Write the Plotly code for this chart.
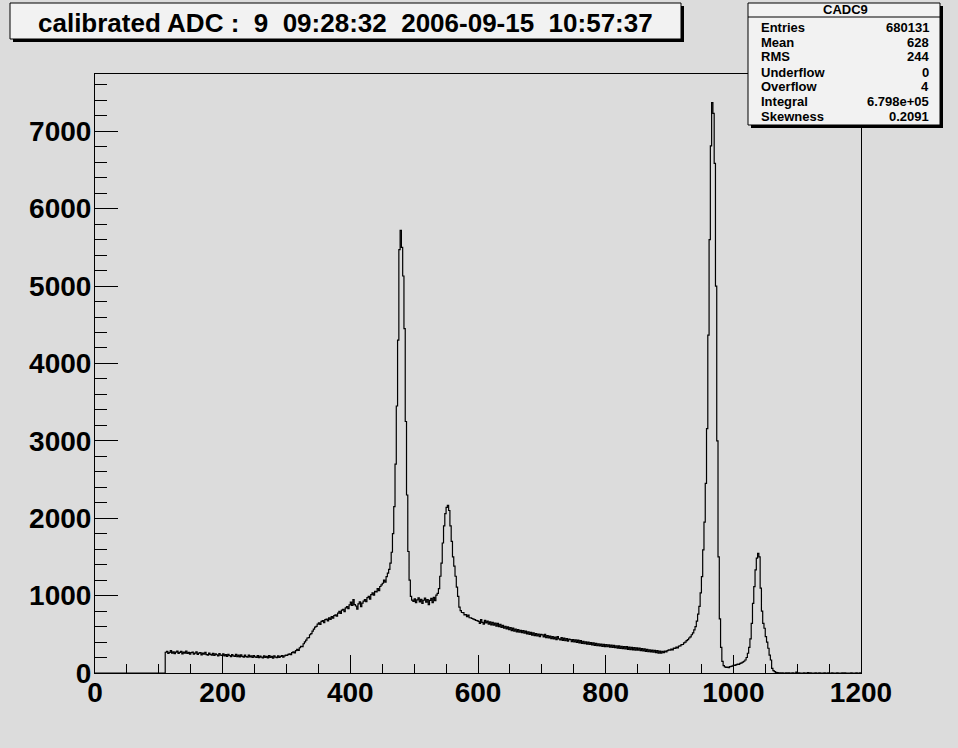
import plotly.graph_objects as go

# ---------------- data (histogram CADC9, bin width 2, range 0..1200) ----------------
bin_width = 2
x_first = 0

counts_0_108 = [0] * 55  # empty bins below the threshold

counts_110_298 = [
    268, 280, 252, 266, 288, 258, 274, 250, 270, 282, 254, 266, 279, 246, 270, 256, 284, 252, 266, 245,
    262, 270, 244, 258, 274, 240, 256, 264, 234, 258, 242, 268, 238, 230, 256, 240, 232, 254, 226, 248, 236, 222, 252, 232, 226,
    246, 220, 238, 216, 242, 226, 210, 238, 220, 214, 240, 212, 230, 208, 234, 216, 204, 230, 212, 204, 232, 208, 222, 200, 226,
    208, 202, 224, 198, 218, 206, 194, 222, 202, 216, 196, 224, 200, 214, 192, 220, 204, 198, 222, 200, 216, 226, 204, 220, 230,
]

counts_300_498 = [
    226, 240, 248, 236, 262, 274, 260, 290, 304, 292, 326, 344, 342, 378, 402, 425, 452, 458, 494, 510, 540, 566, 594, 602, 632,
    648, 628, 666, 676, 650, 690, 696, 674, 712, 694, 728, 710, 742, 752, 734, 774, 796, 770, 812, 822, 794, 842, 858, 832, 880,
    915, 872, 948, 884, 866, 826, 892, 918, 856, 902, 928, 950, 922, 975, 990, 955, 1012, 1036, 1006, 1055, 1048, 1092, 1064, 1118, 1140,
    1160, 1200, 1175, 1245, 1290, 1340, 1420, 1560, 1800, 2150, 2700, 3450, 4300, 5470, 5720, 5500, 5130, 4450, 3250, 2300, 1570, 1200, 990, 942, 925,
]

counts_500_698 = [
    958, 910, 946, 972, 918, 952, 898, 940, 968, 915, 950, 884, 938, 964, 908, 978, 936, 1005,
    1030, 1090, 1250, 1420, 1680, 1900, 2060, 2140, 2165, 2100, 1900, 1700, 1500, 1380, 1250, 1110,
    990, 850, 806, 782, 780, 752, 755, 728, 748, 714, 712, 704, 696, 690, 680, 678,
    668, 642, 690, 655, 632, 680, 648, 671, 630, 660, 622, 655, 618, 646, 605, 640, 598, 628, 590, 615, 578,
    602, 570, 596, 560, 588, 548, 580, 542, 566, 530, 562, 528, 550, 520, 548, 514, 540, 505, 532, 498,
    526, 490, 520, 484, 510, 478, 503, 470, 498,
]

counts_700_898 = [
    492, 466, 498, 458, 482, 452, 478, 445, 470, 440, 465, 432, 470, 440, 428, 458, 422, 450, 418, 445, 412, 438, 430, 405, 432,
    402, 428, 396, 424, 390, 418, 384, 410, 380, 404, 372, 400, 368, 392, 362, 388, 358, 384, 352, 378, 350, 374, 345, 370, 342,
    368, 340, 364, 334, 360, 330, 356, 326, 352, 322, 350, 318, 345, 315, 342, 310, 340, 306, 335, 302, 332, 298, 328, 296, 325,
    295, 322, 290, 316, 285, 312, 280, 305, 276, 300, 272, 296, 268, 292, 262, 288, 258, 284, 255, 280, 262, 284, 272, 290, 298,
]

counts_900_998 = [
    295, 308, 298, 322, 318, 334, 324, 346, 350, 366,
    368, 388, 400, 418, 430, 452, 468, 494, 518, 558,
    600, 670, 760, 860, 1035, 1246, 1590, 1950, 2450, 3157,
    4366, 5600, 6810, 7370, 7230, 6585, 5000, 3000, 1500, 700,
    330, 150, 95, 78, 72, 75, 70, 82, 86, 92,
]

counts_1000_1198 = [
    103, 98, 108, 115, 112, 125, 132, 140, 152, 168,
    200, 255, 330, 440, 640, 900, 1117, 1333, 1484, 1545,
    1500, 1096, 800, 640, 578, 470, 400, 320, 230, 168,
    61, 30, 17, 8, 5, 3, 2,
    0, 1, 0, 0, 2, 0, 1, 0, 0, 3,
    0, 0, 12, 0, 2, 0, 0, 0, 1, 0,
    0, 4, 0, 1, 0, 0, 0, 2, 0, 0,
    1, 0, 0, 0, 3, 0, 0, 1, 0, 0,
    2, 0, 0, 0, 1, 0, 0, 0, 2, 0,
    1, 0, 0, 0, 0, 1, 0, 0, 0, 2,
    0, 0, 1,
]

counts = (counts_0_108 + counts_110_298 + counts_300_498 + counts_500_698
          + counts_700_898 + counts_900_998 + counts_1000_1198)

x_ticks = [0, 200, 400, 600, 800, 1000, 1200]
y_ticks = [0, 1000, 2000, 3000, 4000, 5000, 6000, 7000]

title_text = "calibrated ADC :\u00a0\u00a09\u00a0\u00a009:28:32\u00a0\u00a02006-09-15\u00a0\u00a010:57:37"
stats_name = "CADC9"
stats_labels = ["Entries", "Mean", "RMS", "Underflow", "Overflow", "Integral", "Skewness"]
stats_values = ["680131", "628", "244", "0", "4", "6.798e+05", "0.2091"]

# ---------------- figure ----------------
W, H = 958, 748
L, R, T, B = 95, 97, 74, 75
PW, PH = W - L - R, H - T - B
BG = "#dcdcdc"


def px(xp):
    return (xp - L) / PW


def py(yp):
    return (H - B - yp) / PH


edges = [x_first + i * bin_width for i in range(len(counts) + 1)]
fig = go.Figure()
fig.add_trace(go.Scatter(
    x=edges, y=counts + [counts[-1]], mode="lines",
    line=dict(color="black", width=1.2, shape="hv"),
    hoverinfo="skip", showlegend=False,
))

tickfont = dict(family="Liberation Sans", size=28, color="black", weight="bold")
fig.update_layout(
    width=W, height=H,
    margin=dict(l=L, r=R, t=T, b=B),
    paper_bgcolor=BG, plot_bgcolor=BG,
    showlegend=False,
    xaxis=dict(range=[0, 1200], tickvals=x_ticks, ticks="inside", ticklen=18, tickwidth=1,
               tickcolor="black", showline=True, linecolor="black", linewidth=1, mirror=True,
               showgrid=False, zeroline=False, tickfont=tickfont, ticklabelstandoff=-6,
               minor=dict(ticks="inside", ticklen=9, dtick=50, tickcolor="black", showgrid=False)),
    yaxis=dict(range=[0, 7740], tickvals=y_ticks, ticks="inside", ticklen=23, tickwidth=1,
               tickcolor="black", showline=True, linecolor="black", linewidth=1, mirror=True,
               showgrid=False, zeroline=False, tickfont=tickfont, ticklabelstandoff=-3,
               minor=dict(ticks="inside", ticklen=12, dtick=200, tickcolor="black", showgrid=False)),
)

shapes = []
# title box with shadow
shapes.append(dict(type="rect", xref="paper", yref="paper", x0=px(13), x1=px(684), y0=py(42), y1=py(6),
                   fillcolor="black", line=dict(width=0), layer="above"))
shapes.append(dict(type="rect", xref="paper", yref="paper", x0=px(10), x1=px(681), y0=py(39), y1=py(3),
                   fillcolor="#f2f2f2", line=dict(color="black", width=1), layer="above"))
# stats box with shadow
shapes.append(dict(type="rect", xref="paper", yref="paper", x0=px(751), x1=px(943), y0=py(128), y1=py(6),
                   fillcolor="black", line=dict(width=0), layer="above"))
shapes.append(dict(type="rect", xref="paper", yref="paper", x0=px(748), x1=px(940), y0=py(125), y1=py(3),
                   fillcolor="#f2f2f2", line=dict(color="black", width=1), layer="above"))
shapes.append(dict(type="line", xref="paper", yref="paper", x0=px(748), x1=px(940), y0=py(17), y1=py(17),
                   line=dict(color="black", width=1), layer="above"))
fig.update_layout(shapes=shapes)

ann = []
ann.append(dict(text=title_text, xref="paper", yref="paper", x=px(345), y=py(23),
                xanchor="center", yanchor="middle", showarrow=False,
                font=dict(family="Liberation Sans", size=26, color="black", weight="bold")))
sfont = dict(family="Liberation Sans", size=13, color="black", weight="bold")
ann.append(dict(text=stats_name, xref="paper", yref="paper", x=px(845), y=py(10),
                xanchor="center", yanchor="middle", showarrow=False, font=sfont))
row_y = [27, 43, 57, 72, 86, 101, 116]
for lab, val, yy in zip(stats_labels, stats_values, row_y):
    ann.append(dict(text=lab, xref="paper", yref="paper", x=px(759), y=py(yy),
                    xanchor="left", yanchor="middle", showarrow=False, font=sfont))
    ann.append(dict(text=val, xref="paper", yref="paper", x=px(931), y=py(yy),
                    xanchor="right", yanchor="middle", showarrow=False, font=sfont))
fig.update_layout(annotations=ann)

fig.write_html(
    "out.html",
    config={"displayModeBar": False, "staticPlot": True},
    post_script="document.body.style.margin='0';document.body.style.overflow='hidden';"
                "document.body.style.background='" + BG + "';",
)
